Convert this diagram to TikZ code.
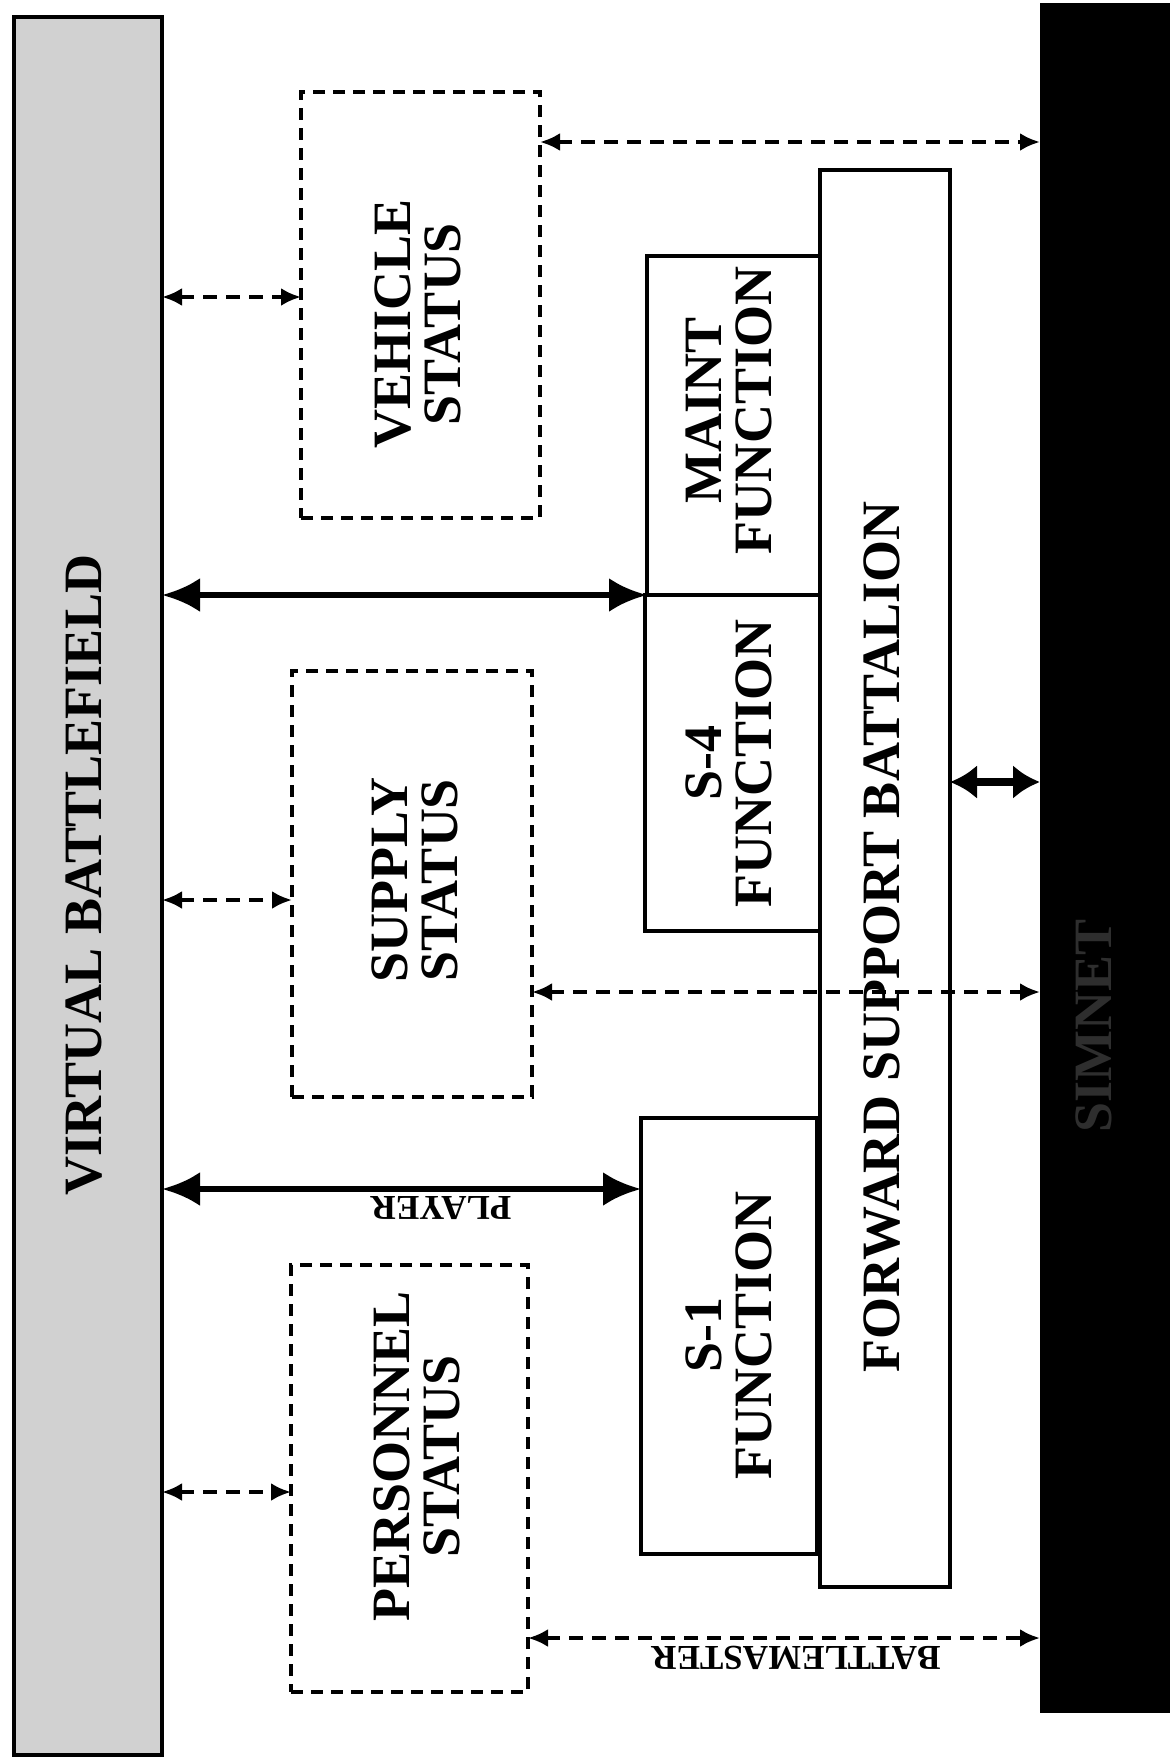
\documentclass[tikz,border=0pt]{standalone}
\usepackage{fontspec}
\setmainfont{Liberation Serif}
\usetikzlibrary{arrows.meta}
\begin{document}
\begin{tikzpicture}[x=1pt,y=-1pt,
  every node/.style={inner sep=0pt, outer sep=0pt},
  solidbox/.style={draw, line width=3.4pt, fill=white, anchor=north west},
  dashbox/.style={draw, line width=3.4pt, dash pattern=on 12pt off 8pt, anchor=north west},
  big/.style={line width=6.5pt, {Latex[length=38pt,width=34pt]}-{Latex[length=38pt,width=34pt]}},
  shortbig/.style={line width=8pt, {Latex[length=27pt,width=34pt]}-{Latex[length=27pt,width=34pt]}},
  dasharrow/.style={line width=3.8pt, dash pattern=on 14pt off 9pt, {Latex[length=20pt,width=18pt]}-{Latex[length=20pt,width=18pt]}},
  lab/.style={font=\fontsize{54}{50}\selectfont\bfseries, align=center, rotate=90},
  small/.style={font=\fontsize{35}{40}\selectfont\bfseries, rotate=180}
]
% canvas
\path[use as bounding box, fill=white] (0,0) rectangle (1170,1759);

% side bars
\node[draw, line width=4.5pt, fill=black!18, anchor=north west, minimum width=148pt, minimum height=1738pt] (vb) at (14,17) {};
\node[fill=black, anchor=north west, minimum width=130pt, minimum height=1710pt] (blk) at (1040,3) {};
\node[lab] (vbt) at (84,875) {VIRTUAL BATTLEFIELD};
\node[lab, text=black!82] (blkt) at (1094,1026) {SIMNET};

% dashed status boxes
\node[dashbox, minimum width=239pt, minimum height=426pt] (veh) at (301,92) {};
\node[dashbox, minimum width=240pt, minimum height=426pt] (sup) at (292,671) {};
\node[dashbox, minimum width=237pt, minimum height=427pt] (per) at (291,1265) {};
\node[lab] (veht) at (418,324) {VEHICLE\\STATUS};
\node[lab] (supt) at (415,880) {SUPPLY\\STATUS};
\node[lab] (pert) at (417,1456) {PERSONNEL\\STATUS};

% forward support battalion and functions
\node[solidbox, minimum width=130pt, minimum height=1417pt] (fsb) at (820,170) {};
\node[solidbox, minimum width=173pt, minimum height=339pt] (maint) at (647,256) {};
\node[solidbox, minimum width=175pt, minimum height=336pt] (s4) at (645,595) {};
\node[solidbox, minimum width=176pt, minimum height=436pt] (s1) at (641,1118) {};
\node[lab] (fsbt) at (882,937) {FORWARD SUPPORT BATTALION};
\node[lab] (maintt) at (729,410) {MAINT\\FUNCTION};
\node[lab] (s4t) at (729,763) {S-4\\FUNCTION};
\node[lab] (s1t) at (729,1335) {S-1\\FUNCTION};

% connectors
\draw[dasharrow] (vb.east |- 0,297) -- (veh.west |- 0,297);
\draw[dasharrow] (veh.east |- 0,142) -- (blk.west |- 0,142);
\draw[big] (vb.east |- maint.south west) -- (maint.south west);
\draw[dasharrow] (vb.east |- 0,900) -- (sup.west |- 0,900);
\draw[dasharrow] (sup.east |- 0,992) -- (blk.west |- 0,992);
\draw[shortbig] (fsb.east |- 0,782) -- (blk.west |- 0,782);
\draw[big] (vb.east |- 0,1189) -- (s1.west |- 0,1189);
\node[small] (player) at (441,1208) {PLAYER};
\draw[dasharrow] (vb.east |- 0,1492) -- (per.west |- 0,1492);
\draw[dasharrow] (per.east |- 0,1638) -- (blk.west |- 0,1638);
\node[small] (bm) at (796,1658) {BATTLEMASTER};
\end{tikzpicture}
\end{document}
